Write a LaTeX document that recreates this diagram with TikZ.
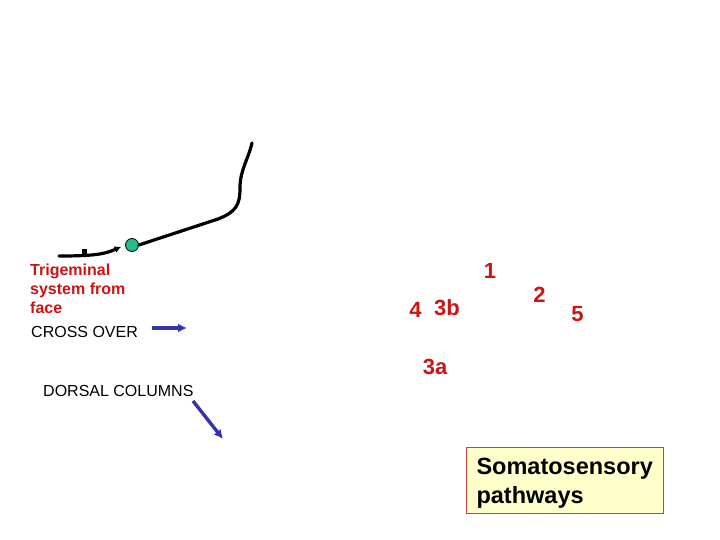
\documentclass[tikz,border=0pt]{standalone}
\usepackage{fontspec}
\setmainfont{Liberation Sans}
\usepackage{xcolor}
\usepackage{tikz}
\usetikzlibrary{arrows.meta,positioning}
\definecolor{tred}{RGB}{204,20,20}
\definecolor{tblue}{RGB}{51,51,170}
\definecolor{tgreen}{RGB}{38,190,135}
\definecolor{bxfill}{RGB}{255,255,204}
\definecolor{bxline}{RGB}{190,70,60}

\begin{document}
\begin{tikzpicture}[x=1pt,y=-1pt,>=Latex,
 rt/.style={text=tred,font=\fontsize{16}{19}\selectfont\bfseries,align=left,inner sep=0pt},
 tx/.style={font=\fontsize{16}{19}\selectfont,inner sep=0pt},
 num/.style={text=tred,font=\fontsize{22}{26}\selectfont\bfseries,inner sep=0pt},
 ar/.style={-{Latex[length=9pt,width=9pt]},tblue,line width=3.4pt},
 nv/.style={line width=3.2pt,line cap=round},
 gg/.style={circle,draw,thick,fill=tgreen,minimum size=13pt,inner sep=0pt},
 bx/.style={draw=bxline,fill=bxfill,align=left,font=\fontsize{23.5}{29}\selectfont\bfseries,minimum width=197pt,inner xsep=9pt,inner ysep=0pt}]
\useasboundingbox (0,0) rectangle (720,540);
% trigeminal fibre
\coordinate (tg0) at (59,256);
\coordinate (tgtop) at (252,143);
\node[gg] (gang) at (132,245) {};
\node[fill,minimum width=5pt,minimum height=5.5pt,inner sep=0pt] (tick) at (84,251.5) {};
\draw[nv,-{Latex[length=7pt,width=7pt]},shorten >=4pt] (tg0) .. controls (95,256) and (105,254) .. (gang.west);
\draw[nv] (gang.east) -- (218,219) .. controls (236,212) and (240,205) .. (240,188) .. controls (240,170) and (248,160) .. (tgtop);
% labels
\node[rt,anchor=north west] (trig) at (30,264) {Trigeminal\\system from\\face};
\node[tx,anchor=base west] (cross) at (31,337) {CROSS OVER};
\node[tx,anchor=base west] (dors) at (43,396) {DORSAL COLUMNS};
\coordinate (co1) at (152,328);
\coordinate (co2) at (187,328);
\coordinate (dc1) at (193,401);
\coordinate (dc2) at (223,439);
\draw[ar] (co1) -- (co2);
\draw[ar] (dc1) -- (dc2);
% areas
\node[num,anchor=base] (n1) at (490,278) {1};
\node[num,anchor=base] (n2) at (539.5,302.5) {2};
\node[num,anchor=base] (n5) at (577.5,321) {5};
\node[num,anchor=base] (n4) at (415.5,317) {4};
\node[num,anchor=base] (n3b) at (447,315) {3b};
\node[num,anchor=base] (n3a) at (435,374) {3a};
\node[bx,anchor=north west] (som) at (466,447) {\rule{0pt}{27pt}Somatosensory\\pathways\rule[-10pt]{0pt}{10pt}};
\end{tikzpicture}
\end{document}
